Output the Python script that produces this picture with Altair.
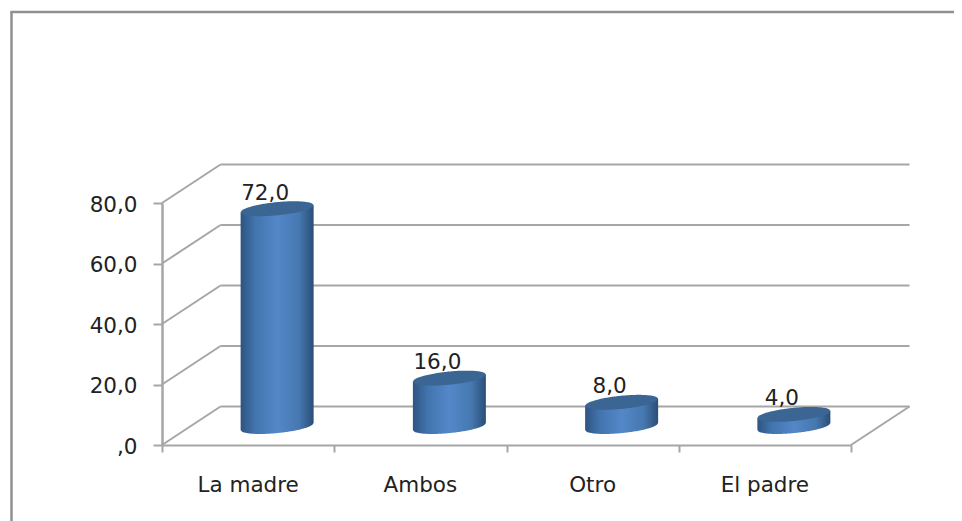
import numpy as np
import pandas as pd
import altair as alt

categories = ["La madre", "Ambos", "Otro", "El padre"]
values = [72.0, 16.0, 8.0, 4.0]
value_ticks = [0, 20, 40, 60, 80]

PLOT_W, PLOT_H = 689, 242
PX_X = 4 / PLOT_W          # category units per pixel
PX_Y = 80 / PLOT_H         # value units per pixel
DEPTH_X, DEPTH_Y = 58.5 * PX_X, 38.5 * PX_Y
A, B, TILT = 36.5 * PX_X, 6.6 * PX_Y, 3.5 * PX_Y
BASE_X, BASE_Y = 29 * PX_X, 18.5 * PX_Y

xs = alt.Scale(domain=[0, 4], nice=False, zero=False)
ys = alt.Scale(domain=[0, 80], nice=False, zero=False)
GRID = "#a6a6a6"
FRAME = "#909090"
FONT = "DejaVu Sans"

# wall and floor lines
seg = []
for v in value_ticks:
    seg.append(dict(x=DEPTH_X, x2=4 + DEPTH_X, y=v + DEPTH_Y, y2=v + DEPTH_Y))
    seg.append(dict(x=0, x2=DEPTH_X, y=v, y2=v + DEPTH_Y))
seg.append(dict(x=4, x2=4 + DEPTH_X, y=0, y2=DEPTH_Y))
seg = pd.DataFrame(seg)

# cylinder outlines
u = np.linspace(-1, 1, 61)
arc = np.sqrt(1 - u ** 2)
body, top = [], []
for i, (c, val) in enumerate(zip(categories, values)):
    for ui, ai in zip(u, arc):
        xp = i + 0.5 + BASE_X + ui * A
        tilt = TILT * ui
        body.append(dict(cat=c, x=xp, y=val + BASE_Y + tilt, y2=BASE_Y + tilt - B * ai))
        top.append(dict(cat=c, x=xp, y=val + BASE_Y + tilt + B * ai, y2=val + BASE_Y + tilt - B * ai))
body, top = pd.DataFrame(body), pd.DataFrame(top)

labels = pd.DataFrame(dict(
    cat=categories,
    x=[i + 0.5 + BASE_X - 12 * PX_X for i in range(4)],
    y=[v + BASE_Y for v in values],
    txt=[f"{v:.1f}".replace(".", ",") for v in values],
))
cats = pd.DataFrame(dict(cat=categories, x=[i + 0.5 for i in range(4)]))

X = alt.X("x:Q", scale=xs, title=None,
          axis=alt.Axis(values=[0, 1, 2, 3, 4], labels=False, grid=False, tickSize=7,
                        tickColor=GRID, tickWidth=2, domainColor=GRID, domainWidth=2, title=None))
Y = alt.Y("y:Q", scale=ys, title=None,
          axis=alt.Axis(values=value_ticks, grid=False, tickSize=9, tickColor=GRID, tickWidth=2,
                        domainColor=GRID, domainWidth=2.5, labelPadding=16, labelFontSize=21.5,
                        labelOffset=2, labelFont=FONT, labelColor="#222222", title=None,
                        labelExpr="datum.value == 0 ? ',0' : replace(format(datum.value, '.1f'), '.', ',')"))

lines = alt.Chart(seg).mark_rule(color=GRID, strokeWidth=2).encode(x=X, x2="x2:Q", y=Y, y2="y2:Q")

grad = alt.LinearGradient(
    gradient="linear", x1=0, x2=1, y1=0, y2=0,
    stops=[
        alt.GradientStop(offset=0, color="#2e5482"),
        alt.GradientStop(offset=0.2, color="#4274ae"),
        alt.GradientStop(offset=0.5, color="#5387c8"),
        alt.GradientStop(offset=0.8, color="#4678b0"),
        alt.GradientStop(offset=1, color="#2b4e77"),
    ],
)
bodies = alt.Chart(body).mark_area(color=grad).encode(x=X, y=Y, y2="y2:Q", detail="cat:N")
tops = alt.Chart(top).mark_area(color="#3b6593").encode(x=X, y=Y, y2="y2:Q", detail="cat:N")

val_text = alt.Chart(labels).mark_text(
    font=FONT, fontSize=21.5, color="#222222", baseline="alphabetic", align="center", yOffset=-9
).encode(x=X, y=Y, text="txt:N")
cat_text = alt.Chart(cats).mark_text(
    font=FONT, fontSize=21.5, color="#222222", baseline="alphabetic", align="center"
).encode(x=X, y=alt.value(288.5), text="cat:N")

frame_left = alt.Chart(pd.DataFrame({"a": [0]})).mark_rule(color=FRAME, strokeWidth=2.5).encode(
    x=alt.value(-150.5), y=alt.value(-191.5), y2=alt.value(318))
frame_top = alt.Chart(pd.DataFrame({"a": [0]})).mark_rule(color=FRAME, strokeWidth=2.5).encode(
    x=alt.value(-151.5), x2=alt.value(792), y=alt.value(-191))

chart = (
    alt.layer(frame_left, frame_top, lines, bodies, tops, val_text, cat_text)
    .properties(
        width=PLOT_W, height=PLOT_H,
        autosize=alt.AutoSizeParams(type="none"),
        padding={"left": 154, "top": 195, "right": 103, "bottom": 76},
        background="white",
    )
    .configure_view(stroke=None)
)
chart.save("out.html", embed_options={"renderer": "svg", "actions": False})
